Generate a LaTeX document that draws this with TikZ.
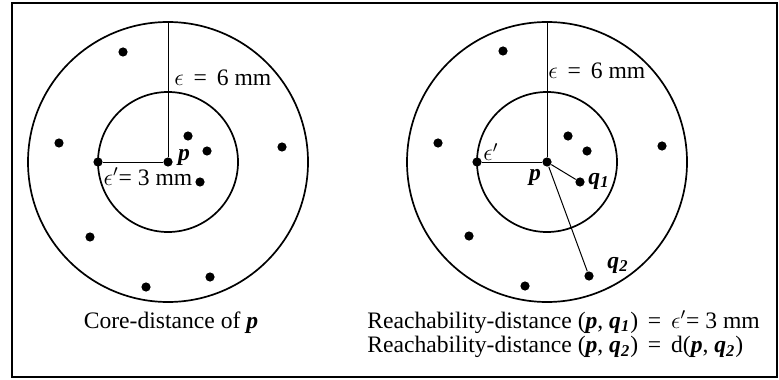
\documentclass[tikz,border=0pt]{standalone}
\usepackage{fontspec}
\setmainfont{Liberation Serif}
\usetikzlibrary{calc}

\newcommand{\bip}[1]{\textbf{\textit{#1}}}

\begin{document}
\begin{tikzpicture}[x=0.5pt, y=-0.5pt,
    dot/.style={circle, fill=black, inner sep=0pt, minimum size=4.6pt},
    ring/.style={line width=0.85pt},
    radius line/.style={line width=0.5pt},
    lbl/.style={inner sep=0pt, font=\fontsize{11.8}{13}\selectfont}]
    % Define radii (in pt)
    \def\outerR{70pt}
    \def\innerR{35pt}

    % Frame and bounding box
    \useasboundingbox (0,0) rectangle (779,379);
    \draw[line width=1pt] (11.5,3.5) rectangle (776.5,376.5);

    % ---------- Left picture: core-distance ----------
    \coordinate (cL) at (168,162);
    \draw[ring] (cL) circle[radius=\outerR];
    \draw[ring] (cL) circle[radius=\innerR];

    \node[dot] (pL) at (cL) {};
    \node[dot] (eL) at (98,162) {};
    \coordinate (topL) at (168,22);

    % Other points
    \foreach \x/\y [count=\i] in {123/52, 59/143, 282/147, 188/136, 207/151, 200/182, 90/237, 146/287, 210/277}
        \node[dot] (l\i) at (\x,\y) {};

    % Radii
    \draw[radius line] (pL) -- (topL);
    \draw[radius line] (pL) -- (eL);

    % Labels
    \node[lbl, anchor=west] (epsL) at (174,78) {$\epsilon$ \,=\, 6 mm};
    \node[lbl] (pLlbl) at (184,157) {\bip{p}};
    \node[lbl] (epsPL) at (148,177) {$\epsilon'$= 3 mm};
    \node[lbl] (capL) at (171,323) {Core-distance of \bip{p}};

    % ---------- Right picture: reachability-distance ----------
    \coordinate (cR) at (547,162);
    \draw[ring] (cR) circle[radius=\outerR];
    \draw[ring] (cR) circle[radius=\innerR];

    \node[dot] (pR) at (cR) {};
    \node[dot] (eR) at (477,162) {};
    \node[dot] (q1) at (580,182) {};
    \node[dot] (q2) at (589,276) {};
    \coordinate (topR) at (547,22);

    % Other points
    \foreach \x/\y [count=\i] in {503/51, 438/143, 662/146, 568/136, 587/151, 469/236, 525/286}
        \node[dot] (r\i) at (\x,\y) {};

    % Radii and distances
    \draw[radius line] (pR) -- (topR);
    \draw[radius line] (pR) -- (eR);
    \draw[radius line] (pR) -- (q1);
    \draw[radius line] (pR) -- (q2);

    % Labels
    \node[lbl, anchor=west] (epsR) at (548,71) {$\epsilon$ \,=\, 6 mm};
    \node[lbl] (epsPR) at (491,152) {$\epsilon'$};
    \node[lbl] (pRlbl) at (535,177) {\bip{p}};
    \node[lbl] (q1lbl) at (599,181) {\bip{q}\textsubscript{\bip{1}}};
    \node[lbl] (q2lbl) at (618,265) {\bip{q}\textsubscript{\bip{2}}};
    \node[lbl, anchor=west] (capR1) at (367,322)
        {Reachability-distance (\bip{p}, \bip{q}\textsubscript{\bip{1}}) \,=\, $\epsilon'$= 3 mm};
    \node[lbl, anchor=west] (capR2) at (367,347)
        {Reachability-distance (\bip{p}, \bip{q}\textsubscript{\bip{2}}) \,=\, d(\bip{p}, \bip{q}\textsubscript{\bip{2}})};

\end{tikzpicture}
\end{document}
